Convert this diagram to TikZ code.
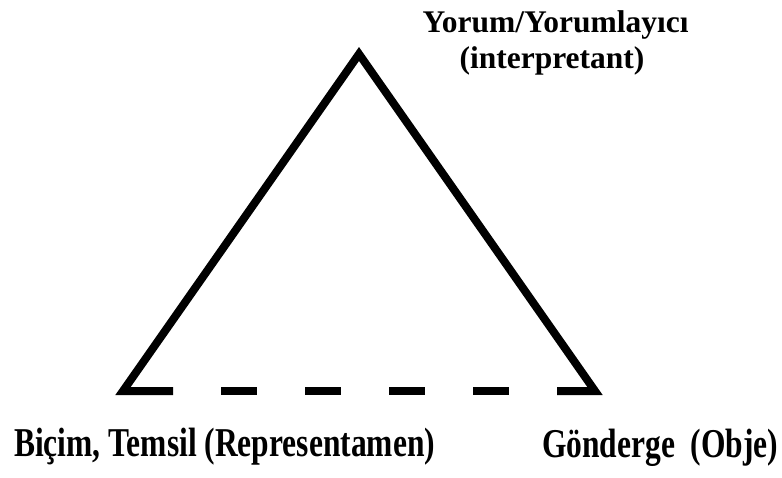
\documentclass[tikz,border=0pt]{standalone}
\usepackage{fontspec}
\setmainfont{Liberation Serif}
\begin{document}
\begin{tikzpicture}[x=1pt,y=-1pt,
  side/.style={line width=8pt, line join=miter, line cap=butt},
  base/.style={line width=8pt, dash pattern=on 36pt off 48pt, line cap=butt},
  lbl/.style={inner sep=0pt, font=\fontsize{31.5}{36}\selectfont\bfseries},
  tall/.style={lbl, yscale=1.3}]
\useasboundingbox (0,0) rectangle (782,478);
\fill[white] (0,0) rectangle (782,478);
\coordinate (A) at (123,391);
\coordinate (B) at (595,391);
\coordinate (C) at (359,54);
\coordinate (s1) at (173,391);
\coordinate (s2) at (557,391);
\coordinate (d1) at (221,391);
\coordinate (d2) at (509,391);
\draw[side] (s1) -- (A) -- (C) -- (B) -- (s2);
\draw[base] (d1) -- (d2);
\node[lbl, anchor=base] (top1) at (555.5,33) {Yorum/Yorumlayıcı};
\node[lbl, anchor=base] (top2) at (552,69) {(interpretant)};
\node[tall, anchor=base west] (left) at (14,456) {Biçim, Temsil (Representamen)};
\node[tall, anchor=base west] (right) at (542,457) {Gönderge\ \ (Obje)};
\end{tikzpicture}
\end{document}
